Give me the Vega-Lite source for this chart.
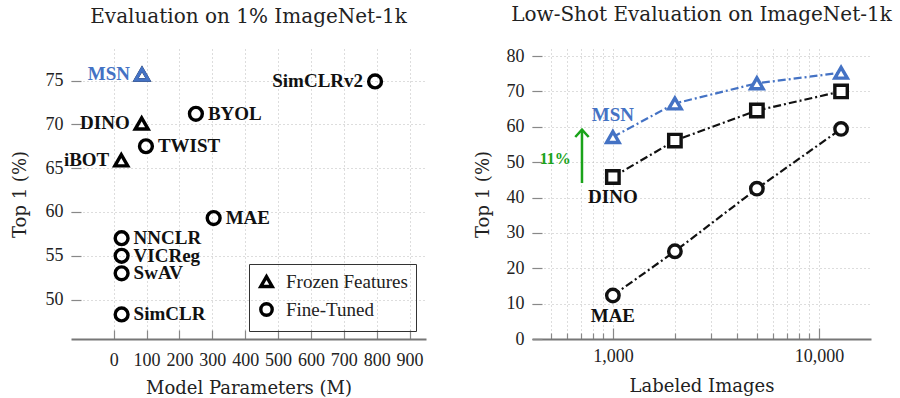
{
  "$schema": "https://vega.github.io/schema/vega-lite/v6.json",
  "background": "white",
  "padding": {"left": 11, "top": 5, "right": 5, "bottom": 5},
  "spacing": 48,
  "resolve": {"scale": {"shape": "independent", "color": "independent", "stroke": "independent"}, "legend": {"shape": "independent"}},
  "config": {
    "font": "Liberation Serif",
    "view": {"stroke": null},
    "title": {"font": "DejaVu Serif", "fontSize": 20, "fontWeight": "normal", "color": "#222", "offset": 22},
    "axis": {
      "labelFontSize": 18, "titleFontSize": 18, "titleFont": "DejaVu Serif", "titleFontWeight": "normal",
      "labelColor": "#222", "titleColor": "#222",
      "gridDash": [1, 3], "gridColor": "#bbb", "gridWidth": 1,
      "tickColor": "#888", "tickWidth": 1.2,
      "domainColor": "#777", "domainWidth": 2
    }
  },
  "datasets": {
    "params": [
      {"method": "MSN", "params": 86, "top1": 75.7, "eval": "Frozen Features"},
      {"method": "DINO", "params": 85, "top1": 70.1, "eval": "Frozen Features"},
      {"method": "iBOT", "params": 23, "top1": 65.9, "eval": "Frozen Features"},
      {"method": "SimCLRv2", "params": 795, "top1": 74.9, "eval": "Fine-Tuned"},
      {"method": "BYOL", "params": 250, "top1": 71.2, "eval": "Fine-Tuned"},
      {"method": "TWIST", "params": 98, "top1": 67.5, "eval": "Fine-Tuned"},
      {"method": "MAE", "params": 304, "top1": 59.3, "eval": "Fine-Tuned"},
      {"method": "NNCLR", "params": 24, "top1": 57.0, "eval": "Fine-Tuned"},
      {"method": "VICReg", "params": 24, "top1": 55.0, "eval": "Fine-Tuned"},
      {"method": "SwAV", "params": 24, "top1": 53.0, "eval": "Fine-Tuned"},
      {"method": "SimCLR", "params": 24, "top1": 48.3, "eval": "Fine-Tuned"}
    ],
    "lowshot": [
      {"method": "MSN", "images": 1000, "top1": 57.1},
      {"method": "MSN", "images": 2000, "top1": 66.6},
      {"method": "MSN", "images": 5000, "top1": 72.3},
      {"method": "MSN", "images": 12811, "top1": 75.3},
      {"method": "DINO", "images": 1000, "top1": 45.8},
      {"method": "DINO", "images": 2000, "top1": 56.1},
      {"method": "DINO", "images": 5000, "top1": 64.6},
      {"method": "DINO", "images": 12811, "top1": 70.0},
      {"method": "MAE", "images": 1000, "top1": 12.3},
      {"method": "MAE", "images": 2000, "top1": 24.8},
      {"method": "MAE", "images": 5000, "top1": 42.5},
      {"method": "MAE", "images": 12811, "top1": 59.4}
    ],
    "annot": [
      {"part": "shaft", "images": 708, "top1": 44.1, "top1end": 59.2},
      {"part": "head", "images": 708, "top1": 59.2},
      {"part": "label", "images": 525, "top1": 51.0, "label": "11%"}
    ]
  },
  "hconcat": [
    {
      "width": 355,
      "height": 290,
      "title": "Evaluation on 1% ImageNet-1k",
      "data": {"name": "params"},
      "encoding": {
        "x": {
          "field": "params", "type": "quantitative",
          "scale": {"domain": [-130, 950], "nice": false, "zero": false},
          "axis": {
            "title": "Model Parameters (M)",
            "values": [0, 100, 200, 300, 400, 500, 600, 700, 800, 900],
            "tickSize": -9, "labelPadding": 21, "titlePadding": 10, "grid": true
          }
        },
        "y": {
          "field": "top1", "type": "quantitative",
          "scale": {"domain": [45.5, 78.6], "nice": false, "zero": false},
          "axis": {
            "title": "Top 1 (%)",
            "values": [50, 55, 60, 65, 70, 75],
            "domain": false, "tickSize": -10, "labelPadding": 18, "titlePadding": 16, "grid": true
          }
        }
      },
      "layer": [
        {
          "mark": {"type": "point", "filled": false, "color": "black", "strokeWidth": 3.4, "size": 165, "opacity": 1},
          "encoding": {
            "shape": {
              "field": "eval", "type": "nominal",
              "scale": {"domain": ["Frozen Features", "Fine-Tuned"], "range": ["triangle-up", "circle"]},
              "legend": {
                "title": null, "orient": "none", "legendX": 178, "legendY": 215,
                "strokeColor": "#333", "padding": 8, "labelFontSize": 19, "labelColor": "#222",
                "symbolStrokeColor": "black", "symbolStrokeWidth": 3.4, "symbolSize": 130,
                "symbolOpacity": 1, "rowPadding": 2, "labelOffset": 10
              }
            }
          }
        },
        {
          "transform": [{"filter": "datum.method == 'MSN'"}],
          "mark": {"type": "point", "filled": false, "shape": "triangle-up", "color": "#4472C4", "strokeWidth": 3.4, "size": 165, "opacity": 1}
        },
        {
          "transform": [{"filter": {"field": "method", "oneOf": ["MSN", "DINO", "iBOT", "SimCLRv2"]}}],
          "mark": {"type": "text", "align": "right", "baseline": "middle", "dx": -12, "fontWeight": "bold", "fontSize": 19},
          "encoding": {
            "text": {"field": "method"},
            "color": {"condition": {"test": "datum.method == 'MSN'", "value": "#4472C4"}, "value": "#111"}
          }
        },
        {
          "transform": [{"filter": {"field": "method", "oneOf": ["BYOL", "TWIST", "MAE", "NNCLR", "VICReg", "SwAV", "SimCLR"]}}],
          "mark": {"type": "text", "align": "left", "baseline": "middle", "dx": 12, "fontWeight": "bold", "fontSize": 19, "color": "#111"},
          "encoding": {"text": {"field": "method"}}
        }
      ]
    },
    {
      "width": 339,
      "height": 290,
      "title": "Low-Shot Evaluation on ImageNet-1k",
      "encoding": {
        "x": {
          "field": "images", "type": "quantitative",
          "scale": {"type": "log", "domain": [405, 17900], "nice": false},
          "axis": {
            "title": "Labeled Images",
            "values": [400, 500, 600, 700, 800, 900, 1000, 2000, 3000, 4000, 5000, 6000, 7000, 8000, 9000, 10000],
            "labelExpr": "datum.value == 1000 || datum.value == 10000 ? format(datum.value, ',') : ''",
            "tickSize": {"condition": {"test": "datum.value == 1000 || datum.value == 10000", "value": -11}, "value": -6},
            "labelPadding": 19, "titlePadding": 7, "grid": true, "labelOverlap": false
          }
        },
        "y": {
          "field": "top1", "type": "quantitative",
          "scale": {"domain": [0, 82], "nice": false},
          "axis": {
            "title": "Top 1 (%)",
            "values": [0, 10, 20, 30, 40, 50, 60, 70, 80],
            "domain": false, "tickSize": -10, "labelPadding": 18, "titlePadding": 14, "grid": true, "labelOverlap": false
          }
        }
      },
      "layer": [
        {
          "data": {"name": "lowshot"},
          "encoding": {
            "color": {
              "field": "method", "type": "nominal",
              "scale": {"domain": ["MSN", "DINO", "MAE"], "range": ["#4472C4", "#111111", "#111111"]},
              "legend": null
            }
          },
          "layer": [
            {"mark": {"type": "line", "strokeWidth": 2.2, "strokeDash": [8, 3, 2, 3]}},
            {
              "mark": {"type": "point", "filled": false, "fill": "white", "fillOpacity": 1, "strokeWidth": 3.4, "size": 155, "opacity": 1},
              "encoding": {
                "shape": {
                  "field": "method", "type": "nominal",
                  "scale": {"domain": ["MSN", "DINO", "MAE"], "range": ["triangle-up", "square", "circle"]},
                  "legend": null
                }
              }
            },
            {
              "transform": [{"filter": "datum.images == 1000 && datum.method == 'MSN'"}],
              "mark": {"type": "text", "align": "center", "baseline": "middle", "dy": -22, "fontWeight": "bold", "fontSize": 19},
              "encoding": {"text": {"field": "method"}}
            },
            {
              "transform": [{"filter": "datum.images == 1000 && datum.method != 'MSN'"}],
              "mark": {"type": "text", "align": "center", "baseline": "middle", "dy": 20, "fontWeight": "bold", "fontSize": 19},
              "encoding": {"text": {"field": "method"}}
            }
          ]
        },
        {
          "data": {"name": "annot"},
          "transform": [{"filter": "datum.part == 'shaft'"}],
          "mark": {"type": "rule", "color": "#1aa31a", "strokeWidth": 2.5},
          "encoding": {"y2": {"field": "top1end"}}
        },
        {
          "data": {"name": "annot"},
          "transform": [{"filter": "datum.part == 'head'"}],
          "mark": {"type": "point", "shape": "M-1,1.1L0,0L1,1.1", "filled": false, "stroke": "#1aa31a", "strokeWidth": 2.5, "size": 180, "opacity": 1}
        },
        {
          "data": {"name": "annot"},
          "transform": [{"filter": "datum.part == 'label'"}],
          "mark": {"type": "text", "align": "center", "baseline": "middle", "fontWeight": "bold", "fontSize": 16, "color": "#1aa31a"},
          "encoding": {"text": {"field": "label"}}
        }
      ]
    }
  ]
}
